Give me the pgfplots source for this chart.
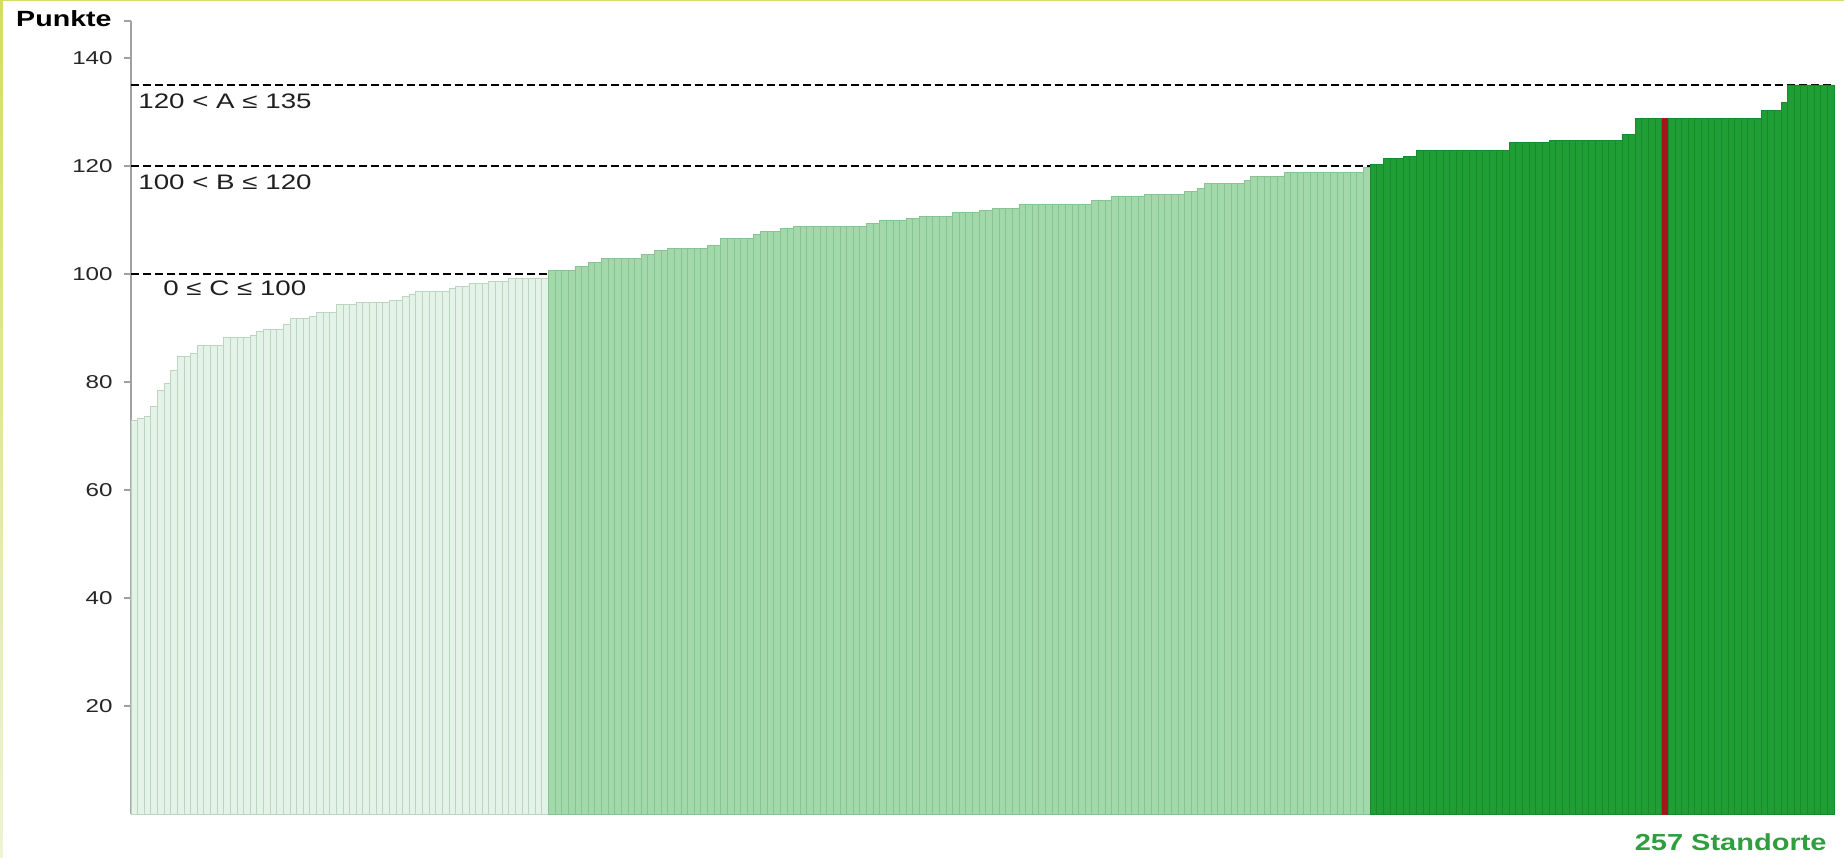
\documentclass[border=0pt]{standalone}
\usepackage{fontspec}
\setmainfont{Liberation Sans}
\usepackage{graphicx}
\usepackage{pgfplots}
\usepackage{pgfplotstable}
\pgfplotsset{compat=1.18}
\definecolor{cfill}{HTML}{E4F3E7}
\definecolor{cedge}{HTML}{BCD4C0}
\definecolor{bfill}{HTML}{A3D9AA}
\definecolor{bedge}{HTML}{88C392}
\definecolor{afill}{HTML}{1F9E36}
\definecolor{aedge}{HTML}{178A2C}
\definecolor{redbar}{HTML}{A4161D}
\definecolor{axgray}{HTML}{A0A0A0}
\definecolor{stgreen}{HTML}{2E9E3E}
\definecolor{frameA}{HTML}{D2DD66}
\definecolor{frameB}{HTML}{EEF3D2}
\newcommand\sx[1]{\scalebox{1.3}[1]{#1}}

\pgfplotstableread{
x y
1 72.8
2 73.2
3 73.7
4 75.4
5 78.4
6 79.8
7 82.2
8 84.8
9 84.8
10 85.2
11 86.8
12 86.8
13 86.8
14 86.8
15 88.3
16 88.3
17 88.3
18 88.3
19 88.6
20 89.3
21 89.8
22 89.8
23 89.8
24 90.7
25 91.8
26 91.8
27 91.8
28 92.2
29 92.9
30 92.9
31 92.9
32 94.3
33 94.3
34 94.3
35 94.8
36 94.8
37 94.8
38 94.8
39 94.8
40 95.1
41 95.1
42 95.8
43 96.3
44 96.8
45 96.8
46 96.8
47 96.8
48 96.8
49 97.3
50 97.7
51 97.7
52 98.3
53 98.3
54 98.3
55 98.7
56 98.7
57 98.7
58 99.2
59 99.2
60 99.2
61 99.2
62 99.2
63 99.2
}\groupC

\pgfplotstableread{
x y
64 100.7
65 100.7
66 100.7
67 100.7
68 101.4
69 101.4
70 102.2
71 102.2
72 102.8
73 102.8
74 102.8
75 102.8
76 102.8
77 102.8
78 103.7
79 103.7
80 104.3
81 104.3
82 104.7
83 104.7
84 104.7
85 104.7
86 104.7
87 104.7
88 105.2
89 105.2
90 106.6
91 106.6
92 106.6
93 106.6
94 106.6
95 107.3
96 107.8
97 107.8
98 107.8
99 108.4
100 108.4
101 108.8
102 108.8
103 108.8
104 108.8
105 108.8
106 108.8
107 108.8
108 108.8
109 108.8
110 108.8
111 108.8
112 109.3
113 109.3
114 109.9
115 109.9
116 109.9
117 109.9
118 110.2
119 110.2
120 110.7
121 110.7
122 110.7
123 110.7
124 110.7
125 111.4
126 111.4
127 111.4
128 111.4
129 111.8
130 111.8
131 112.2
132 112.2
133 112.2
134 112.2
135 112.9
136 112.9
137 112.9
138 112.9
139 112.9
140 112.9
141 112.9
142 112.9
143 112.9
144 112.9
145 112.9
146 113.6
147 113.6
148 113.6
149 114.3
150 114.3
151 114.3
152 114.3
153 114.3
154 114.8
155 114.8
156 114.8
157 114.8
158 114.8
159 114.8
160 115.2
161 115.2
162 115.8
163 116.7
164 116.7
165 116.7
166 116.7
167 116.7
168 116.7
169 117.3
170 118.1
171 118.1
172 118.1
173 118.1
174 118.1
175 118.8
176 118.8
177 118.8
178 118.8
179 118.8
180 118.8
181 118.8
182 118.8
183 118.8
184 118.8
185 118.8
186 118.8
187 119.8
}\groupB

\pgfplotstableread{
x y
188 120.3
189 120.3
190 121.4
191 121.4
192 121.4
193 121.8
194 121.8
195 122.9
196 122.9
197 122.9
198 122.9
199 122.9
200 122.9
201 122.9
202 122.9
203 122.9
204 122.9
205 122.9
206 122.9
207 122.9
208 122.9
209 124.4
210 124.4
211 124.4
212 124.4
213 124.4
214 124.4
215 124.8
216 124.8
217 124.8
218 124.8
219 124.8
220 124.8
221 124.8
222 124.8
223 124.8
224 124.8
225 124.8
226 125.9
227 125.9
228 128.8
229 128.8
230 128.8
231 128.8
233 128.8
234 128.8
235 128.8
236 128.8
237 128.8
238 128.8
239 128.8
240 128.8
241 128.8
242 128.8
243 128.8
244 128.8
245 128.8
246 128.8
247 130.3
248 130.3
249 130.3
250 131.8
251 135
252 135
253 135
254 135
255 135
256 135
257 135
}\groupA

\pgfplotstableread{
x y
232 128.8
}\redone

\begin{document}
\begin{tikzpicture}
\begin{axis}[
  at={(0,0)}, anchor=south west,
  scale only axis,
  width=851.5bp, height=396.5bp,
  xmin=0.5, xmax=257.5,
  ymin=0, ymax=146.85,
  axis x line*=bottom,
  axis y line*=left,
  axis line style={axgray, line width=0.6bp, -},
  xtick=\empty,
  ytick={20,40,60,80,100,120,140},
  yticklabels={\sx{20},\sx{40},\sx{60},\sx{80},\sx{100},\sx{120},\sx{140}},
  extra y ticks={146.85},
  extra y tick labels={},
  tick align=outside,
  major tick length=3.5bp,
  tick style={axgray, line width=0.6bp},
  yticklabel style={font=\fontsize{9.3bp}{11bp}\selectfont, text=black!85, inner sep=0pt, xshift=-5.5bp},
  clip=false,
]
\addplot[black, line width=0.85bp, dash pattern=on 4bp off 2bp] coordinates {(0.5,100) (257.5,100)};
\addplot[black, line width=0.85bp, dash pattern=on 4bp off 2bp] coordinates {(0.5,120) (257.5,120)};
\addplot[black, line width=0.85bp, dash pattern=on 4bp off 2bp] coordinates {(0.5,135) (257.5,135)};
\addplot[ybar, bar width=1, bar shift=0pt, fill=cfill, draw=cedge, line width=0.45bp] table[x=x,y=y] {\groupC};
\addplot[ybar, bar width=1, bar shift=0pt, fill=bfill, draw=bedge, line width=0.45bp] table[x=x,y=y] {\groupB};
\addplot[ybar, bar width=1, bar shift=0pt, fill=afill, draw=aedge, line width=0.45bp] table[x=x,y=y] {\groupA};
\addplot[ybar, bar width=0.75, bar shift=0pt, fill=redbar, draw=redbar, line width=0.3bp] table[x=x,y=y] {\redone};
\node[anchor=west, inner sep=0pt, font=\fontsize{10.5bp}{12bp}\selectfont, text=black!88] at (axis cs:1.56,132.0) {\scalebox{1.32}[1]{120 < A ≤ 135}};
\node[anchor=west, inner sep=0pt, font=\fontsize{10.5bp}{12bp}\selectfont, text=black!88] at (axis cs:1.56,117.0) {\scalebox{1.32}[1]{100 < B ≤ 120}};
\node[anchor=west, inner sep=0pt, font=\fontsize{10.5bp}{12bp}\selectfont, text=black!88] at (axis cs:5.33,97.4) {\scalebox{1.32}[1]{0 ≤ C ≤ 100}};
\node[anchor=east, inner sep=0pt, font=\bfseries\fontsize{11bp}{13bp}\selectfont] at ([xshift=-9.5bp,yshift=1bp]rel axis cs:0,1) {\scalebox{1.3}[1]{Punkte}};
\node[anchor=east, inner sep=0pt, font=\bfseries\fontsize{11.6bp}{13bp}\selectfont, text=stgreen] at ([xshift=-3.5bp,yshift=-14bp]rel axis cs:1,0) {\scalebox{1.25}[1]{257 Standorte}};
\end{axis}
\pgfresetboundingbox
\path[use as bounding box] (-65.5bp,-22bp) rectangle (856.5bp,407bp);
\shade[top color=frameA, bottom color=frameB] (-65.5bp,-22bp) rectangle (-64bp,407bp);
\fill[frameA] (-65.5bp,406.4bp) rectangle (856.5bp,407bp);
\end{tikzpicture}
\end{document}
